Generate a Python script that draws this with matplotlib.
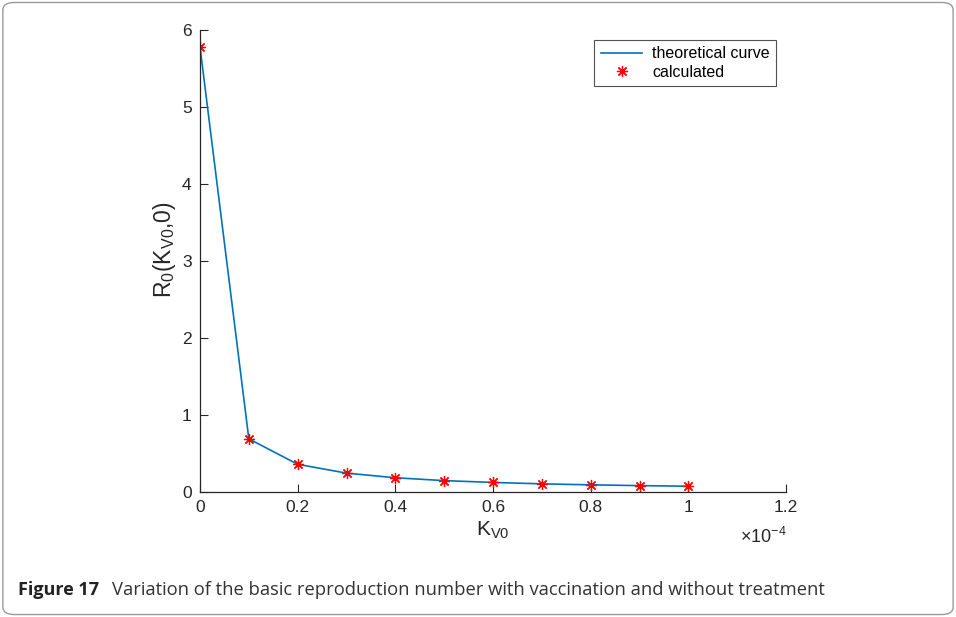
import numpy as np
import matplotlib.pyplot as plt
from matplotlib.patches import FancyBboxPatch

# values (x in units of 1e-4)
kv0 = [0.0, 0.1, 0.2, 0.3, 0.4, 0.5, 0.6, 0.7, 0.8, 0.9, 1.0]
r0 = [5.78, 0.69, 0.36, 0.245, 0.185, 0.148, 0.124, 0.106, 0.093, 0.083, 0.075]
xticks = [0, 0.2, 0.4, 0.6, 0.8, 1.0, 1.2]
xtick_labels = ['0', '0.2', '0.4', '0.6', '0.8', '1', '1.2']
yticks = [0, 1, 2, 3, 4, 5, 6]

plt.rcParams['font.family'] = ['Liberation Sans', 'DejaVu Sans']
plt.rcParams['mathtext.fontset'] = 'custom'
plt.rcParams['mathtext.rm'] = 'Liberation Sans'
plt.rcParams['mathtext.it'] = 'Liberation Sans'
plt.rcParams['mathtext.default'] = 'regular'

fig = plt.figure(figsize=(9.56, 6.17), dpi=100)

# rounded frame around the whole figure
frame = FancyBboxPatch((0.003, 0.004), 0.994, 0.992,
                       boxstyle='round,pad=0,rounding_size=0.012',
                       transform=fig.transFigure, fill=False,
                       edgecolor='#9a9a9a', linewidth=1.0)
fig.patches.append(frame)

ax = fig.add_axes([200 / 956, 1 - 492 / 617, 586 / 956, 462 / 617])
ax.plot(kv0, r0, color='#0072BD', linewidth=1.2, label='theoretical curve')
ax.plot(kv0, r0, linestyle='none', marker=(8, 2, 0), color='red',
        markersize=8, markeredgewidth=0.9, label='calculated')

ax.set_xlim(0, 1.2)
ax.set_ylim(0, 6)
ax.set_xticks(xticks)
ax.set_xticklabels(xtick_labels)
ax.set_yticks(yticks)
ax.tick_params(direction='in', length=6, width=0.8, labelsize=12.5,
               colors='#262626', pad=6)
for side in ['top', 'right']:
    ax.spines[side].set_visible(False)
for side in ['left', 'bottom']:
    ax.spines[side].set_linewidth(0.9)
    ax.spines[side].set_color('#262626')

ax.set_xlabel(r'K$_{V0}$', fontsize=15, color='#262626', labelpad=3)
ax.set_ylabel(r'R$_{0}$(K$_{V0}$,0)', fontsize=16.5, color='#262626')
ax.yaxis.set_label_coords(-0.038, 0.525)
fig.text(740 / 956, 1 - 537 / 617, r'×10$^{-4}$',
         fontsize=13, color='#262626', va='center', ha='left')

leg = ax.legend(loc='upper right', bbox_to_anchor=(776 / 956, 1 - 40 / 617),
                bbox_transform=fig.transFigure, fontsize=11.5, frameon=True,
                fancybox=False, edgecolor='#262626', borderpad=0.4,
                handlelength=2.6, handletextpad=0.6, labelspacing=0.2,
                borderaxespad=0)
leg.get_frame().set_linewidth(0.8)

fig.text(18 / 956, 1 - 590 / 617, 'Figure 17', fontsize=13,
         fontweight='bold', family=['Open Sans', 'DejaVu Sans'],
         color='#222222', va='center')
fig.text(112 / 956, 1 - 590 / 617,
         'Variation of the basic reproduction number with vaccination and without treatment',
         fontsize=13.2, family=['Open Sans', 'DejaVu Sans'], color='#333333',
         va='center')

fig.savefig('out.png', dpi=100)
